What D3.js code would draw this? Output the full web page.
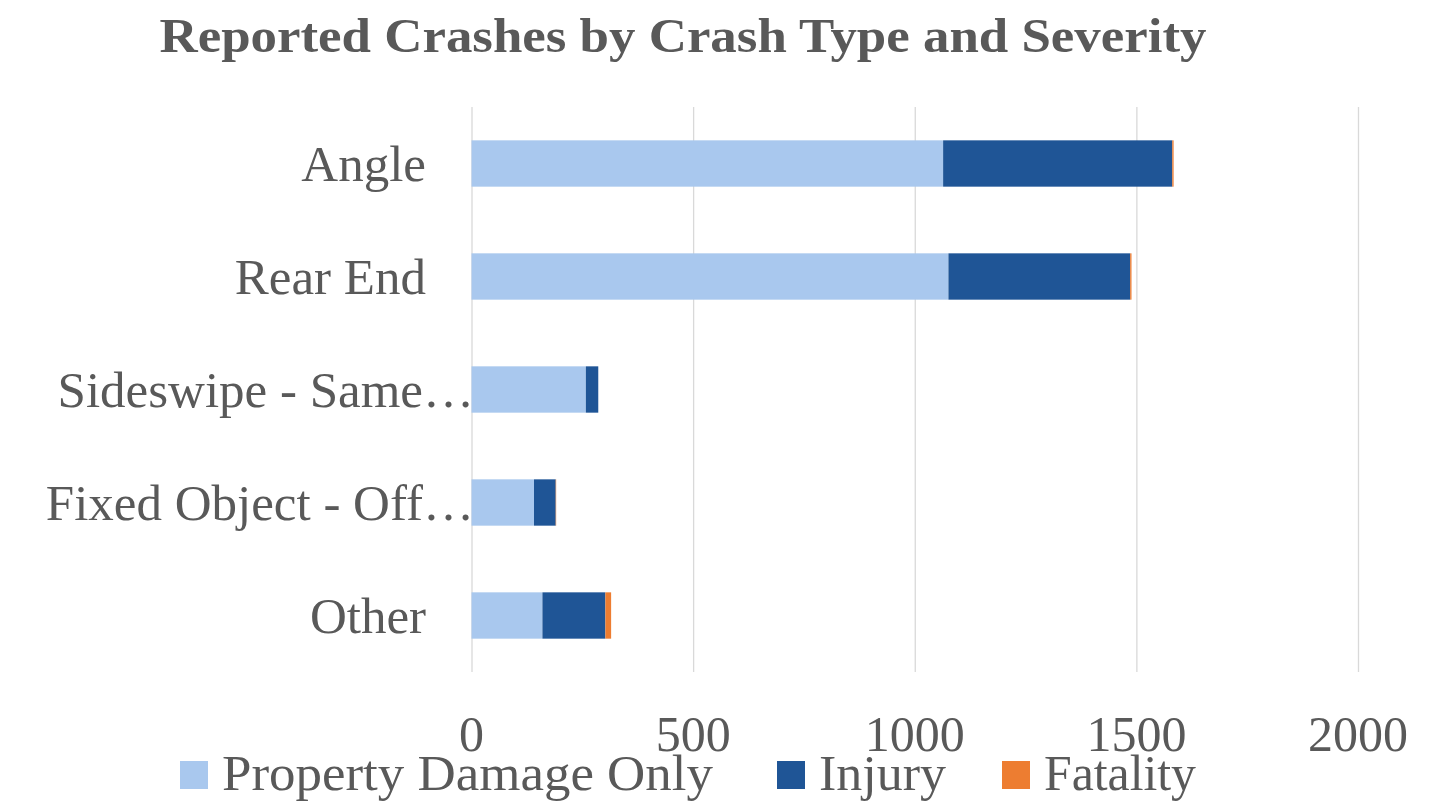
<!DOCTYPE html>
<html>
<head>
<meta charset="utf-8">
<script src="https://cdn.jsdelivr.net/npm/d3@7.9.0/dist/d3.min.js"></script>
<style>
  body { margin: 0; background: #fff; }
  svg { display: block; font-family: "Liberation Serif", "Times New Roman", serif; }
  .grid line { stroke: #d9d9d9; stroke-width: 1.3; }
  .grid path { display: none; }
</style>
</head>
<body>
<div id="chart"></div>
<script>
// chart data
const categories = ['Angle', 'Rear End', 'Sideswipe - Same…', 'Fixed Object - Off…', 'Other'];
const truncated = [false, false, true, true, false];
const propertyDamage = [1064, 1076, 258, 141, 160];
const injury = [517, 410, 28, 49, 142];
const fatality = [3, 3, 0, 1, 13];
const seriesNames = ['Property Damage Only', 'Injury', 'Fatality'];
const seriesColors = ['#a9c8ee', '#1f5596', '#ed7d31'];
const xTicks = [0, 500, 1000, 1500, 2000];

const width = 1436;
const height = 801;
const textColor = '#595959';

const svg = d3.select('#chart')
  .append('svg')
  .attr('width', width)
  .attr('height', height);

// title (stretched a bit to match the original's wider face)
svg.append('text')
  .attr('x', 683)
  .attr('y', 52)
  .attr('text-anchor', 'middle')
  .attr('font-size', 49)
  .attr('font-weight', 'bold')
  .attr('fill', textColor)
  .attr('textLength', 1047)
  .attr('lengthAdjust', 'spacingAndGlyphs')
  .text('Reported Crashes by Crash Type and Severity');

const xScale = d3.scaleLinear()
  .domain([0, 2000])
  .range([471.5, 1358]);

const yScale = d3.scaleBand()
  .domain(categories)
  .range([107, 672])
  .paddingInner(0.59)
  .paddingOuter(0.295);

// gridlines
svg.append('g')
  .attr('class', 'grid')
  .attr('transform', 'translate(0, 672)')
  .call(d3.axisBottom(xScale)
    .tickValues(xTicks)
    .tickFormat('')
    .tickSize(-565));

// stacked bars
const rows = categories.map((c, i) => ({
  category: c,
  pdo: propertyDamage[i],
  inj: injury[i],
  fat: fatality[i],
}));

const stack = d3.stack().keys(['pdo', 'inj', 'fat']);
const layers = stack(rows);

svg.append('g')
  .selectAll('g')
  .data(layers)
  .join('g')
  .attr('fill', (d, i) => seriesColors[i])
  .selectAll('rect')
  .data((d) => d)
  .join('rect')
  .attr('x', (d) => xScale(d[0]))
  .attr('y', (d) => yScale(d.data.category))
  .attr('width', (d) => Math.max(0, xScale(d[1]) - xScale(d[0])))
  .attr('height', yScale.bandwidth());

// category labels
svg.append('g')
  .selectAll('text')
  .data(categories)
  .join('text')
  .attr('x', (d, i) => truncated[i] ? 474 : 426)
  .attr('y', (d) => yScale(d) + yScale.bandwidth() / 2)
  .attr('dy', '0.35em')
  .attr('text-anchor', 'end')
  .attr('font-size', 51)
  .attr('fill', textColor)
  .text((d) => d);

// x tick labels
svg.append('g')
  .selectAll('text')
  .data(xTicks)
  .join('text')
  .attr('x', (d) => xScale(d))
  .attr('y', 751)
  .attr('text-anchor', 'middle')
  .attr('font-size', 50)
  .attr('fill', textColor)
  .text((d) => d);

// legend
const legendX = [180, 777, 1002];
const legendTextW = [491, 127, 152];
const legend = svg.append('g')
  .selectAll('g')
  .data(seriesNames)
  .join('g')
  .attr('transform', (d, i) => `translate(${legendX[i]}, 761)`);

legend.append('rect')
  .attr('width', 28)
  .attr('height', 28)
  .attr('fill', (d, i) => seriesColors[i]);

legend.append('text')
  .attr('x', 42)
  .attr('y', 29)
  .attr('font-size', 50)
  .attr('fill', textColor)
  .attr('textLength', (d, i) => legendTextW[i])
  .attr('lengthAdjust', 'spacingAndGlyphs')
  .text((d) => d);
</script>
</body>
</html>
